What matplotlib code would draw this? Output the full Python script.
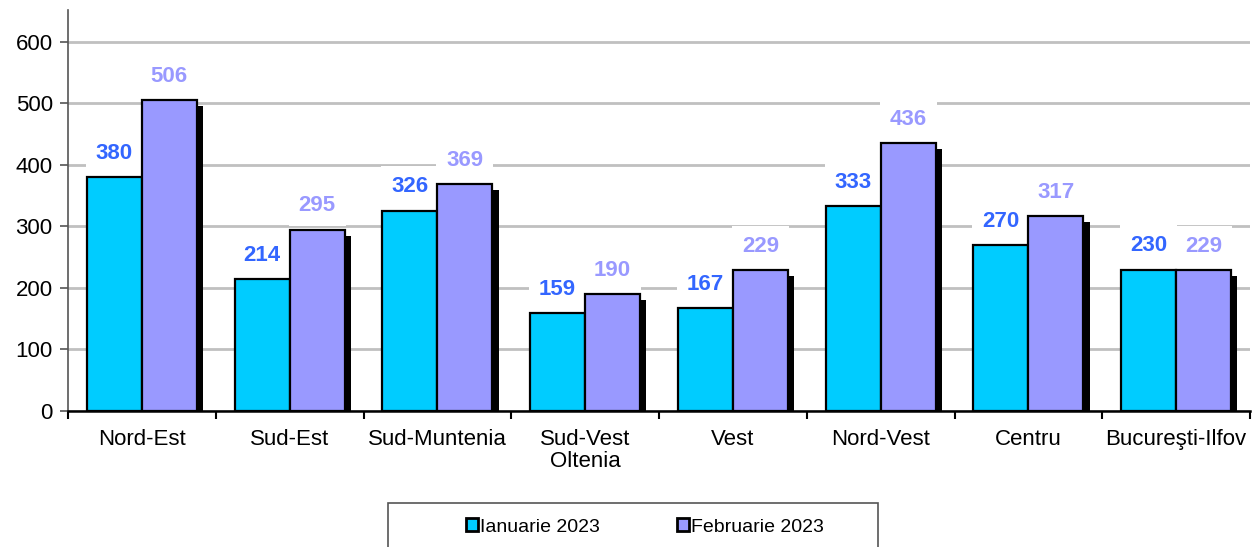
import matplotlib.pyplot as plt
import matplotlib.transforms as mtransforms
from matplotlib.patches import Rectangle, Patch
import numpy as np

plt.rcParams['font.family'] = ['Liberation Sans', 'DejaVu Sans']

regions = ['Nord-Est', 'Sud-Est', 'Sud-Muntenia', 'Sud-Vest\nOltenia', 'Vest',
           'Nord-Vest', 'Centru', 'Bucureşti-Ilfov']
ian_2023 = [380, 214, 326, 159, 167, 333, 270, 230]
feb_2023 = [506, 295, 369, 190, 229, 436, 317, 229]
series_names = ['Ianuarie 2023', 'Februarie 2023']
yticks = [0, 100, 200, 300, 400, 500, 600]

c_ian = '#00CCFF'
c_feb = '#9999FF'
lbl_ian = '#3366FF'
lbl_feb = '#9999FF'

fig = plt.figure(figsize=(12.55, 5.47), dpi=100)
ax = fig.add_axes([68/1255, 1 - 411/547, (1250-68)/1255, (411-10)/547])

x = np.arange(len(regions))
w = 0.372

# drop shadows
shadow = mtransforms.offset_copy(ax.transData, fig=fig, x=4.5, y=-4.5, units='points')
for xs, vals in [(x - w/2, ian_2023), (x + w/2, feb_2023)]:
    ax.bar(xs, vals, w, color='black', transform=shadow, zorder=2)

ax.bar(x - w/2, ian_2023, w, color=c_ian, edgecolor='black', linewidth=1.6, zorder=3)
ax.bar(x + w/2, feb_2023, w, color=c_feb, edgecolor='black', linewidth=1.6, zorder=3)

for xs, vals, col in [(x - w/2, ian_2023, lbl_ian), (x + w/2, feb_2023, lbl_feb)]:
    for xi, v in zip(xs, vals):
        ax.annotate(str(v), (xi, v), xytext=(0, 17), textcoords='offset points',
                    ha='center', va='center', fontsize=16, fontweight='bold', color=col,
                    bbox=dict(boxstyle='square,pad=0.45', fc='white', ec='none'), zorder=2.5)

ax.set_xlim(-0.5, len(regions) - 0.5)
ax.set_ylim(0, 652)
ax.set_yticks(yticks)
ax.yaxis.grid(True, color='#c0c0c0', linewidth=2, zorder=0)
ax.set_axisbelow(True)

ax.set_xticks(x)
ax.set_xticklabels(regions, linespacing=1.05)
ax.set_xticks(np.arange(len(regions) + 1) - 0.5, minor=True)
ax.tick_params(axis='x', which='major', length=0, pad=13, labelsize=16)
ax.tick_params(axis='x', which='minor', length=6, width=1.5, direction='out')
ax.tick_params(axis='y', length=6, width=1.2, direction='out', labelsize=16, pad=5,
               color='#555555')

for s in ['top', 'right']:
    ax.spines[s].set_visible(False)
ax.spines['left'].set_color('#555555')
ax.spines['left'].set_linewidth(1.2)
ax.spines['bottom'].set_color('black')
ax.spines['bottom'].set_linewidth(1.8)

# legend frame
fig.patches.append(Rectangle((388/1255, -0.05), (878-388)/1255, 0.05 + (547-503)/547,
                             transform=fig.transFigure, fc='white', ec='#555555', lw=1.2))
handles = [Patch(fc=c_ian, ec='black', lw=2), Patch(fc=c_feb, ec='black', lw=2)]
fig.legend(handles, series_names, loc='center', bbox_to_anchor=(645/1255, 1 - 527/547),
           ncol=2, frameon=False, fontsize=14, handlelength=0.6, handleheight=0.6,
           handletextpad=0.1, columnspacing=4.0)

fig.savefig('out.png', dpi=100)
